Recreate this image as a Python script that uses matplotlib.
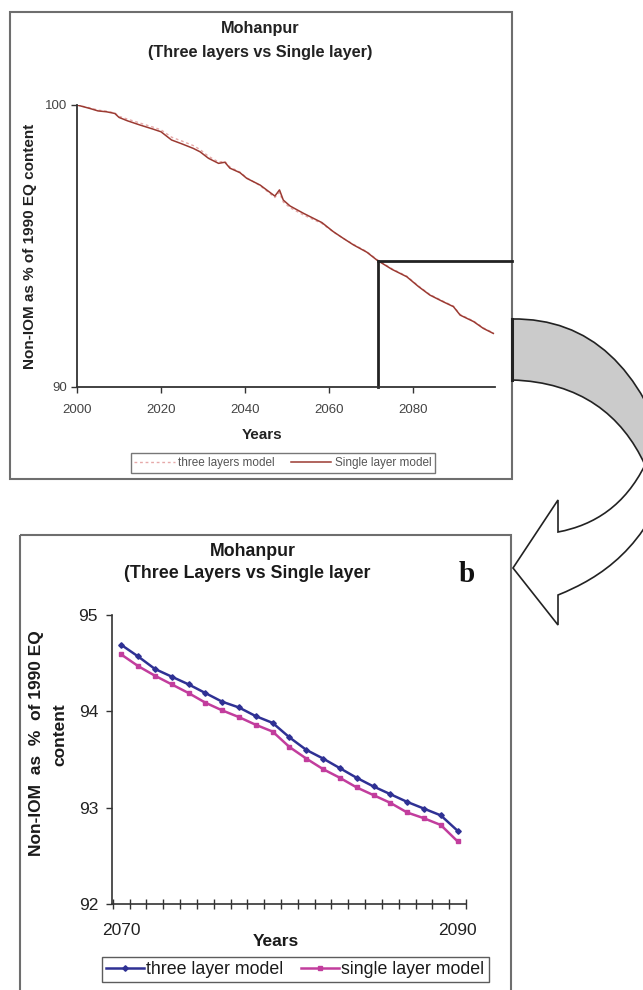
import numpy as np
import matplotlib.pyplot as plt
from matplotlib.path import Path
from matplotlib.patches import PathPatch, Rectangle

plt.rcParams['font.family'] = ['Liberation Sans', 'DejaVu Sans']

# ---- data ----
# panel a: 2000-2099, Non-IOM as % of 1990 EQ content
years_a = [2000, 2003, 2005, 2007, 2009, 2010, 2012, 2015, 2018, 2020,
           2022.5, 2025, 2027.7, 2029.3, 2031.3, 2033.7, 2035.2, 2036.4, 2038.8, 2040.4,
           2043.6, 2047.1, 2048.2, 2049.1, 2050.7, 2053.9, 2058.3, 2061, 2063.4, 2065.8,
           2069, 2071.4, 2075, 2078.5, 2081.3, 2084, 2087.2, 2089.6, 2091.2, 2094.4,
           2096.7, 2099.1]
single_a = [100.0, 99.88, 99.79, 99.76, 99.70, 99.56, 99.44, 99.29, 99.15, 99.05,
            98.76, 98.62, 98.46, 98.34, 98.11, 97.93, 97.97, 97.76, 97.60, 97.40,
            97.16, 96.77, 96.99, 96.63, 96.42, 96.16, 95.83, 95.51, 95.27, 95.04,
            94.78, 94.50, 94.17, 93.91, 93.56, 93.26, 93.02, 92.85, 92.55, 92.32,
            92.08, 91.90]
three_a = [100.0, 99.90, 99.82, 99.78, 99.72, 99.60, 99.50, 99.36, 99.22, 99.12,
           98.86, 98.72, 98.56, 98.42, 98.18, 97.98, 98.00, 97.80, 97.62, 97.42,
           97.14, 96.72, 96.90, 96.56, 96.36, 96.10, 95.80, 95.50, 95.27, 95.06,
           94.80, 94.52, 94.19, 93.93, 93.58, 93.28, 93.04, 92.87, 92.57, 92.34,
           92.10, 91.92]

# panel b: 2070-2090
years_b = list(range(2070, 2091))
three_b = [94.69, 94.57, 94.44, 94.36, 94.28, 94.19, 94.10, 94.04, 93.95, 93.88,
           93.73, 93.60, 93.51, 93.41, 93.31, 93.22, 93.14, 93.06, 92.99, 92.92, 92.76]
single_b = [94.59, 94.47, 94.37, 94.28, 94.19, 94.09, 94.01, 93.94, 93.86, 93.79,
            93.63, 93.51, 93.40, 93.31, 93.21, 93.13, 93.05, 92.95, 92.89, 92.82, 92.65]

zoom_year = 2071.7

W, H = 643, 990
fig = plt.figure(figsize=(W / 100, H / 100), dpi=100)


def fx(px):
    return px / W


def fy(py):
    return 1 - py / H


# overlay for panel frames and the curved arrow (pixel coords)
ov = fig.add_axes([0, 0, 1, 1], zorder=0)
ov.set_xlim(0, W)
ov.set_ylim(H, 0)
ov.axis('off')
ov.add_patch(Rectangle((10, 12), 502, 467, fill=False, ec='#6e6e6e', lw=1.5))
ov.add_patch(Rectangle((20, 535), 491, 470, fill=False, ec='#6e6e6e', lw=1.5))

band = Path([(512, 319), (590, 318), (642, 368), (670, 462),
             (645, 465), (622, 415), (580, 382), (512, 380), (512, 319)],
            [Path.MOVETO, Path.CURVE4, Path.CURVE4, Path.CURVE4,
             Path.LINETO, Path.CURVE4, Path.CURVE4, Path.CURVE4, Path.CLOSEPOLY])
ov.add_patch(PathPatch(band, fc='#cbcbcb', ec='#222222', lw=1.2))
arrow = Path([(645, 465), (625, 505), (595, 525), (558, 532),
              (558, 500), (513, 568), (558, 625), (558, 595),
              (600, 578), (648, 548), (672, 468), (645, 465)],
             [Path.MOVETO, Path.CURVE4, Path.CURVE4, Path.CURVE4,
              Path.LINETO, Path.LINETO, Path.LINETO, Path.LINETO,
              Path.CURVE4, Path.CURVE4, Path.CURVE4, Path.CLOSEPOLY])
ov.add_patch(PathPatch(arrow, fc='white', ec='#222222', lw=1.2))
ov.plot([512, 512], [319, 380], color='#222222', lw=2.2)

# ---- panel a ----
ax1 = fig.add_axes([fx(77), fy(387), (495 - 77) / W, (387 - 105) / H], zorder=1)
ax1.plot(years_a, three_a, color='#e6a9a9', lw=1.0, ls=(0, (2, 2)), label='three layers model')
ax1.plot(years_a, single_a, color='#9b3a32', lw=1.1, label='Single layer model')
ax1.set_xlim(2000, 2099.5)
ax1.set_ylim(90, 100)
ax1.set_xticks([2000, 2020, 2040, 2060, 2080])
ax1.set_yticks([90, 100])
ax1.tick_params(labelsize=9.5, labelcolor='#444444', color='#333333', length=4, width=1)
ax1.tick_params(axis='x', pad=8)
ax1.tick_params(axis='y', pad=3)
for s in ['top', 'right']:
    ax1.spines[s].set_visible(False)
for s in ['left', 'bottom']:
    ax1.spines[s].set_color('#333333')
    ax1.spines[s].set_linewidth(1.3)

lvl = np.interp(zoom_year, years_a, single_a)
ax1.plot([zoom_year, zoom_year], [90, lvl], color='#222222', lw=2, clip_on=False)
ax1.plot([zoom_year, 2103.6], [lvl, lvl], color='#222222', lw=2, clip_on=False)

fig.text(fx(260), fy(28), 'Mohanpur', ha='center', va='center', fontsize=11.7,
         fontweight='bold', color='#222222')
fig.text(fx(260), fy(53), '(Three layers vs Single layer)', ha='center', va='center',
         fontsize=11.7, fontweight='bold', color='#222222')
fig.text(fx(30), fy(246), 'Non-IOM as % of 1990 EQ content', rotation=90, ha='center',
         va='center', fontsize=11, fontweight='bold', color='#222222')
fig.text(fx(262), fy(435), 'Years', ha='center', va='center', fontsize=11,
         fontweight='bold', color='#222222')
leg1 = ax1.legend(loc='center', bbox_to_anchor=(fx(283), fy(463)), bbox_transform=fig.transFigure,
                  ncol=2, fontsize=8.5, frameon=True, fancybox=False, handlelength=3.4,
                  handletextpad=0.3, columnspacing=1.4, borderpad=0.3, labelcolor='#555555')
leg1.get_frame().set_edgecolor('#555555')
leg1.get_frame().set_linewidth(1.0)

# ---- panel b ----
ax2 = fig.add_axes([fx(112), fy(904), (466 - 112) / W, (904 - 615) / H], zorder=1)
ax2.plot(years_b, three_b, color='#2f3194', lw=1.8, marker='D', ms=2.8, label='three layer model')
ax2.plot(years_b, single_b, color='#c23d9d', lw=1.8, marker='s', ms=2.8, label='single layer model')
ax2.set_xlim(2069.45, 2090.5)
ax2.set_ylim(92, 95)
ax2.set_yticks([92, 93, 94, 95])
ax2.set_xticks([2070, 2090])
ax2.set_xticks(np.arange(2069.5, 2091, 1.0), minor=True)
ax2.tick_params(axis='x', which='major', length=0, pad=14, labelsize=12.5, labelcolor='#222222')
ax2.tick_params(axis='x', which='minor', direction='inout', length=7, width=1, color='#333333')
ax2.tick_params(axis='y', length=4, width=1, pad=6, labelsize=12.5, labelcolor='#222222',
                color='#333333')
for s in ['top', 'right']:
    ax2.spines[s].set_visible(False)
for s in ['left', 'bottom']:
    ax2.spines[s].set_color('#333333')
    ax2.spines[s].set_linewidth(1.2)

fig.text(fx(253), fy(552), 'Mohanpur', ha='center', va='center', fontsize=12.8,
         fontweight='bold', color='#1a1a1a')
fig.text(fx(247), fy(573), '(Three Layers vs Single layer', ha='center', va='center',
         fontsize=12.8, fontweight='bold', color='#1a1a1a')
fig.text(fx(467), fy(575), 'b', ha='center', va='center', fontsize=21, fontweight='bold',
         family='Liberation Serif', color='#111111')
fig.text(fx(37), fy(743), 'Non-IOM  as  %  of 1990 EQ', rotation=90, ha='center', va='center',
         fontsize=12.5, fontweight='bold', color='#1a1a1a')
fig.text(fx(60), fy(735), 'content', rotation=90, ha='center', va='center',
         fontsize=12.5, fontweight='bold', color='#1a1a1a')
fig.text(fx(276), fy(942), 'Years', ha='center', va='center', fontsize=12.5,
         fontweight='bold', color='#1a1a1a')
leg2 = ax2.legend(loc='center', bbox_to_anchor=(fx(295.5), fy(969.5)), bbox_transform=fig.transFigure,
                  ncol=2, fontsize=12.8, frameon=True, fancybox=False, handlelength=2.1,
                  handletextpad=0.15, columnspacing=1.0, borderpad=0.25, labelcolor='#1a1a1a')
leg2.get_frame().set_edgecolor('#333333')
leg2.get_frame().set_linewidth(1.0)

fig.savefig('out.png', dpi=100)
